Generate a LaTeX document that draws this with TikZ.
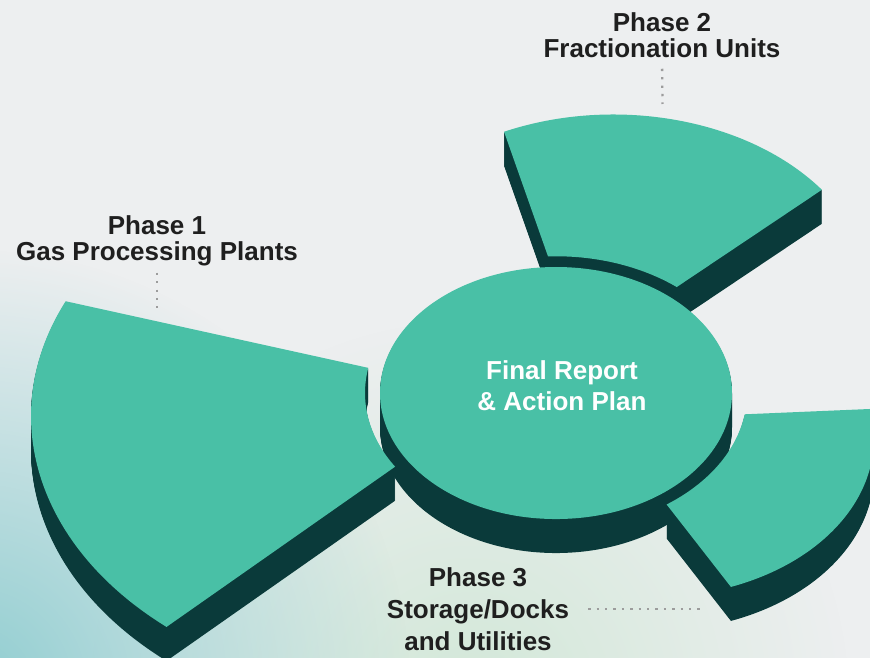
\documentclass[tikz,border=0pt]{standalone}
\usepackage{fontspec}
\setmainfont{Liberation Sans}
\usetikzlibrary{fadings}
\definecolor{paper}{HTML}{EDEFF0}
\definecolor{wash}{HTML}{8FCDD0}
\definecolor{greenwash}{HTML}{D2E8D8}
\definecolor{mint}{HTML}{49C0A6}
\definecolor{deepteal}{HTML}{0A3A3A}
\definecolor{ink}{HTML}{1F1F1F}
\definecolor{dotgray}{HTML}{9C9C9C}
\tikzfading[name=glow, inner color=transparent!0, outer color=transparent!100]

% ring piece: outer centre x, y, outer radius, outer start/end angle, inner start/end angle
\newcommand{\slab}[7]{({#1+#3*cos(#4)},{#2+#3*sin(#4)}) arc[start angle=#4, end angle=#5, radius=#3pt]
  -- ({556+191*cos(#6)},{-548.9+191*sin(#6)}) arc[start angle=#6, end angle=#7, radius=191pt] -- cycle}
% top face with its side wall below
\newcommand{\extrude}[1]{%
  \foreach \dz in {34,33,...,1}{\fill[deepteal, yshift=-\dz pt, yscale=0.716] #1;}
  \fill[mint, yscale=0.716] #1;}

\begin{document}
\begin{tikzpicture}[x=1pt, y=1pt,
  phasetext/.style={align=center, inner sep=0pt, text=ink, font=\bfseries\fontsize{26}{26}\selectfont},
  leader/.style={draw=dotgray, line width=2.3pt, dash pattern=on 2.3pt off 6.1pt}]
\useasboundingbox (0,0) rectangle (870,-658);
\clip (0,0) rectangle (870,-658);
\fill[paper] (0,0) rectangle (870,-658);
\fill[greenwash, path fading=glow] (470,-700) circle[radius=380pt];
\fill[wash, path fading=glow] (-30,-690) circle[radius=440pt];

\extrude{\slab{613.3}{-419.4}{259.5}{36.5}{114.9}{92.4}{50.8}}
\extrude{(556,-548.9) circle[radius=176pt]}
\extrude{\slab{419}{-581}{388}{155.6}{229.4}{212.6}{169.4}}
\extrude{\slab{652.8}{-613}{221}{-69.3}{10.9}{-8.95}{-54.6}}

\node[phasetext, anchor=base] (phase1) at (157,-260) {Phase 1\\Gas Processing Plants};
\node[phasetext, anchor=base] (phase2) at (662,-57.3) {Phase 2\\Fractionation Units};
\node[phasetext, anchor=base, font=\bfseries\fontsize{26}{32}\selectfont] (phase3) at (478,-650.5) {Phase 3\\Storage/Docks\\and Utilities};
\node[phasetext, anchor=base, text=white, font=\bfseries\fontsize{26}{31}\selectfont] (finalplan) at (562,-410) {Final Report\\\& Action Plan};

\coordinate (phase1foot) at (157,-308);
\coordinate (phase2foot) at (662.5,-104);
\coordinate (phase3foot) at (701,-609);
\draw[leader, shorten <=7pt] (phase1.south) -- (phase1foot);
\draw[leader, shorten <=11pt] (phase2.south) -- (phase2foot);
\draw[leader, shorten <=19pt] (phase3.east) -- (phase3.east -| phase3foot);
\end{tikzpicture}
\end{document}
